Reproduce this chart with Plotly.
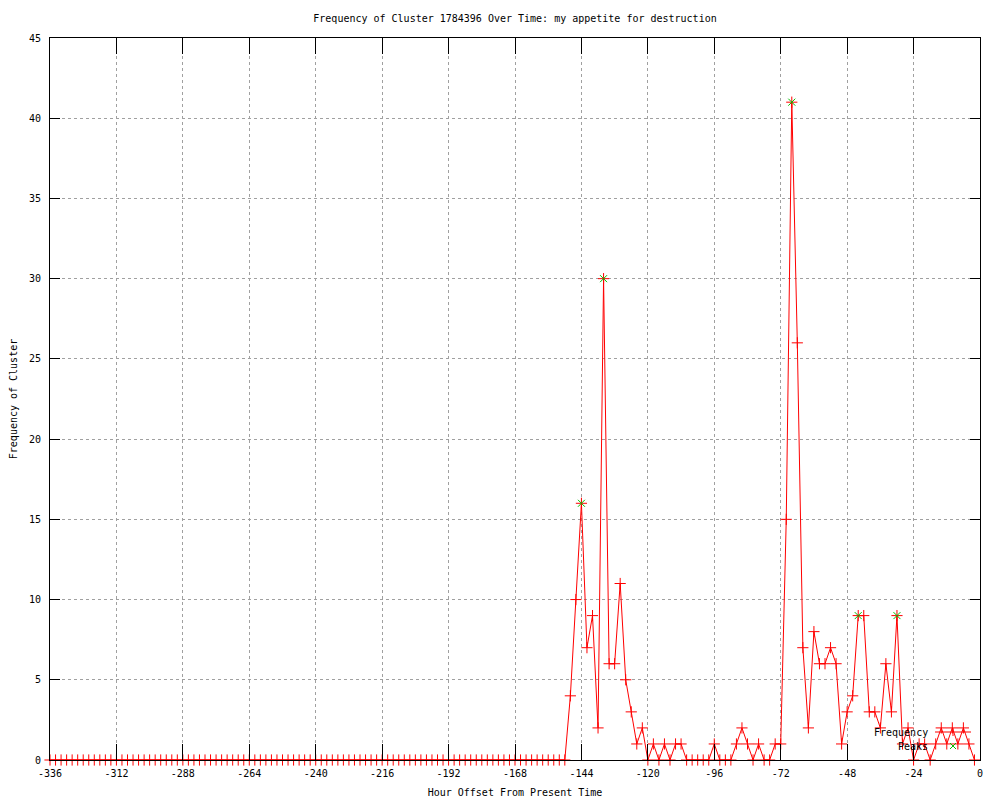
import plotly.graph_objects as go

# ---------------- data ----------------
hours = list(range(-336, 0, 2))  # -336 ... -2, every 2 hours

freq = [
    # -336 .. -150 (all zero)
    0, 0, 0, 0, 0, 0, 0, 0, 0, 0, 0, 0, 0, 0, 0, 0, 0, 0, 0, 0,
    0, 0, 0, 0, 0, 0, 0, 0, 0, 0, 0, 0, 0, 0, 0, 0, 0, 0, 0, 0,
    0, 0, 0, 0, 0, 0, 0, 0, 0, 0, 0, 0, 0, 0, 0, 0, 0, 0, 0, 0,
    0, 0, 0, 0, 0, 0, 0, 0, 0, 0, 0, 0, 0, 0, 0, 0, 0, 0, 0, 0,
    0, 0, 0, 0, 0, 0, 0, 0, 0, 0, 0, 0, 0, 0,
    # -148 .. -2
    4, 10, 16, 7, 9, 2, 30, 6, 6, 11,
    5, 3, 1, 2, 0, 1, 0, 1, 0, 1,
    1, 0, 0, 0, 0, 0, 1, 0, 0, 0,
    1, 2, 1, 0, 1, 0, 0, 1, 1, 15,
    41, 26, 7, 2, 8, 6, 6, 7, 6, 1,
    3, 4, 9, 9, 3, 3, 2, 6, 3, 9,
    1, 2, 0, 1, 1, 0, 1, 2, 1, 2,
    1, 2, 1, 0,
]

peak_hours = [-144, -136, -68, -44, -30]
peak_values = [16, 30, 41, 9, 9]

x_tickvals = [-336, -312, -288, -264, -240, -216, -192, -168, -144, -120, -96, -72, -48, -24, 0]
x_ticktext = ["-336", "-312", "-288", "-264", "-240", "-216", "-192", "-168", "-144",
              "-120", "-96", "-72", "-48", "-24", "0"]
y_tickvals = [0, 5, 10, 15, 20, 25, 30, 35, 40, 45]
y_ticktext = ["0", "5", "10", "15", "20", "25", "30", "35", "40", "45"]

title_text = "Frequency of Cluster 1784396 Over Time: my appetite for destruction"
x_title = "Hour Offset From Present Time"
y_title = "Frequency of Cluster"
legend_labels = ["Frequency", "Peaks"]

# ---------------- style ----------------
FONT = "DejaVu Sans Mono"
RED = "#ff0000"
GREEN = "#00c000"
GRID = "#a0a0a0"

fig = go.Figure()

fig.add_trace(go.Scatter(
    x=hours, y=freq, mode="lines+markers", name=legend_labels[0],
    line=dict(color=RED, width=1),
    marker=dict(symbol="cross-thin-open", size=8, line=dict(color=RED, width=1), color=RED),
    cliponaxis=False, showlegend=False,
))
fig.add_trace(go.Scatter(
    x=peak_hours, y=peak_values, mode="markers", name=legend_labels[1],
    marker=dict(symbol="x-thin-open", size=7, line=dict(color=GREEN, width=1), color=GREEN),
    cliponaxis=False, showlegend=False,
))

# The page adds an 8px body margin; figure is 992x792 so that on the page
# the plot area sits at x 50..980 px, y 38..760 px.
OFF = 8
W, H = 992, 792
L, R, T, B = 50 - OFF, 20, 38 - OFF, 40
pw, ph = W - L - R, H - T - B

def px(xp):  # page pixel -> paper
    return (xp - OFF - L) / pw

def py(yp):  # page pixel -> paper
    return (H - B - (yp - OFF)) / ph

# legend (gnuplot style: text on the left, key sample on the right)
shapes = []
annotations = []
ky1, ky2 = 732, 746
annotations.append(dict(xref="paper", yref="paper", x=px(930), y=py(ky1), text=legend_labels[0],
                        showarrow=False, xanchor="right", yanchor="middle",
                        font=dict(family=FONT, size=10, color="black")))
annotations.append(dict(xref="paper", yref="paper", x=px(930), y=py(ky2), text=legend_labels[1],
                        showarrow=False, xanchor="right", yanchor="middle",
                        font=dict(family=FONT, size=10, color="black")))
# frequency key line + plus
shapes.append(dict(type="line", xref="paper", yref="paper", x0=px(935), x1=px(971), y0=py(ky1), y1=py(ky1),
                   line=dict(color=RED, width=1)))
shapes.append(dict(type="line", xref="paper", yref="paper", x0=px(953), x1=px(953), y0=py(ky1 - 4), y1=py(ky1 + 4),
                   line=dict(color=RED, width=1)))
# peaks key x
shapes.append(dict(type="line", xref="paper", yref="paper", x0=px(950), x1=px(956), y0=py(ky2 - 3), y1=py(ky2 + 3),
                   line=dict(color=GREEN, width=1)))
shapes.append(dict(type="line", xref="paper", yref="paper", x0=px(950), x1=px(956), y0=py(ky2 + 3), y1=py(ky2 - 3),
                   line=dict(color=GREEN, width=1)))

fig.update_layout(
    width=W, height=H,
    margin=dict(l=L, r=R, t=T, b=B, pad=0),
    paper_bgcolor="white", plot_bgcolor="white",
    font=dict(family=FONT, size=10, color="black"),
    title=dict(text=title_text, x=px(515), xref="paper", xanchor="center",
               y=1 - (18 - OFF) / H, yref="container", yanchor="middle",
               font=dict(family=FONT, size=10, color="black")),
    shapes=shapes, annotations=annotations,
    showlegend=False,
)

fig.update_xaxes(
    range=[-336, 0], tickvals=x_tickvals, ticktext=x_ticktext,
    showline=True, linecolor="black", linewidth=1, mirror="ticks",
    ticks="inside", ticklen=16, tickcolor="black", tickwidth=1,
    showgrid=True, gridcolor=GRID, gridwidth=1, griddash="3px,3px",
    zeroline=False, ticklabelstandoff=4,
    title=dict(text=x_title, standoff=10, font=dict(family=FONT, size=10)),
    automargin=False,
)
fig.update_yaxes(
    range=[0, 45], tickvals=y_tickvals, ticktext=y_ticktext,
    showline=True, linecolor="black", linewidth=1, mirror="ticks",
    ticks="inside", ticklen=10, tickcolor="black", tickwidth=1,
    showgrid=True, gridcolor=GRID, gridwidth=1, griddash="3px,3px",
    zeroline=False, ticklabelstandoff=6,
    title=dict(text=y_title, standoff=9, font=dict(family=FONT, size=10)),
    automargin=False,
)

fig.write_html("out.html")
